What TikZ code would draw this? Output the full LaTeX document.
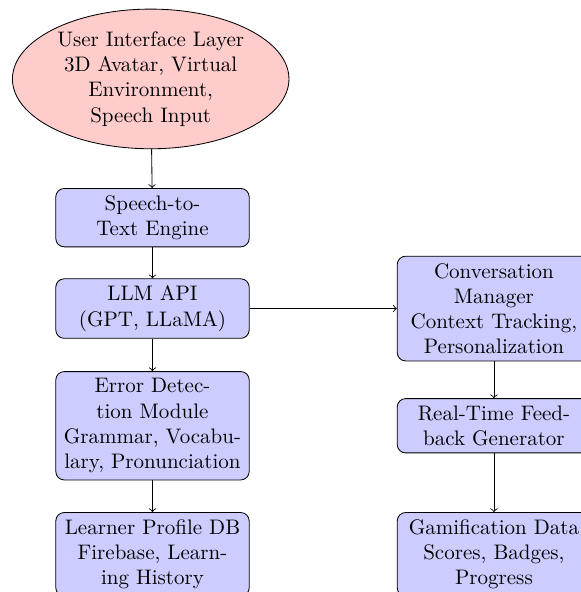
\documentclass[tikz,border=0pt]{standalone}
\usepackage{amsmath}
\usepackage{tikz}
\usetikzlibrary{shapes.geometric}

\begin{document}
\begin{tikzpicture}[
  layer/.style={ellipse,draw,fill=red!20,text width=3.2cm,inner sep=1pt,align=center},
  module/.style={rectangle,rounded corners,draw,fill=blue!20,text width=3cm,align=center},
  flow/.style={->}]
\useasboundingbox (0,0) rectangle (9.70,-9.90);
\node[layer] (ui) at (2.52,-1.32) {User Interface Layer\\3D Avatar, Virtual Environment, Speech Input};
\node[module] (stt) at (2.55,-3.64) {Speech-to-Text Engine};
\node[module] (llm) at (2.55,-5.16) {LLM API\\(GPT, LLaMA)};
\node[module] (err) at (2.55,-7.12) {Error Detection Module\\Grammar, Vocabulary, Pronunciation};
\node[module] (prof) at (2.55,-9.27) {Learner Profile DB\\Firebase, Learning History};
\node[module] (conv) at (8.26,-5.16) {Conversation Manager\\Context Tracking, Personalization};
\node[module] (fb) at (8.26,-7.12) {Real-Time Feedback Generator};
\node[module] (game) at (8.26,-9.27) {Gamification Data\\Scores, Badges, Progress};
\draw[flow] (ui) -- (stt);
\draw[flow] (stt) -- (llm);
\draw[flow] (llm) -- (err);
\draw[flow] (err) -- (prof);
\draw[flow] (llm) -- (conv);
\draw[flow] (conv) -- (fb);
\draw[flow] (fb) -- (game);
\end{tikzpicture}
\end{document}
